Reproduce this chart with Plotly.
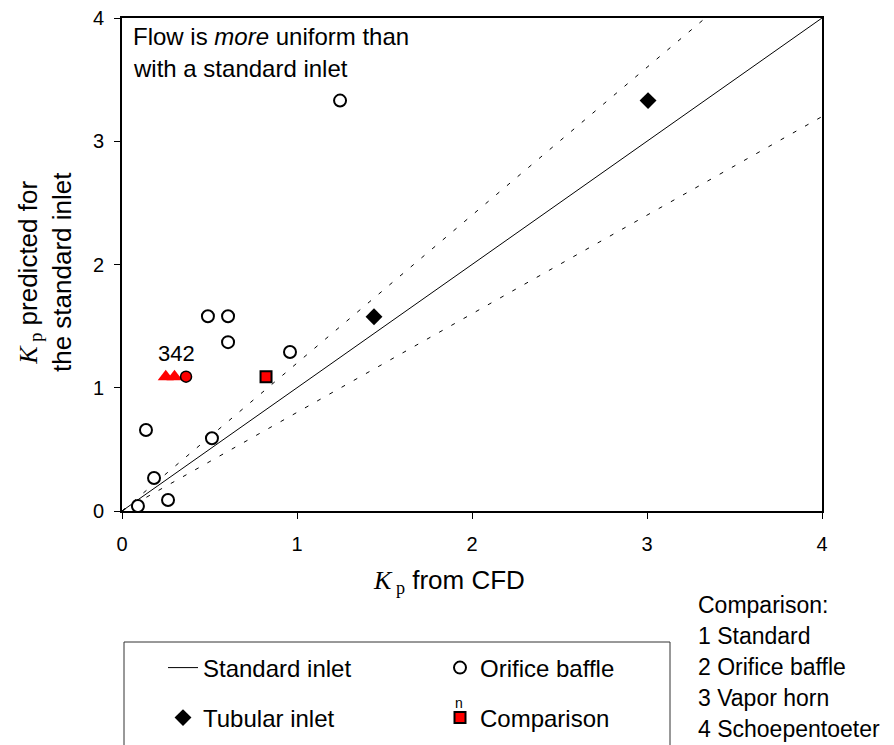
import plotly.graph_objects as go

# ---------------- data ----------------
orifice_x = [1.246, 0.491, 0.606, 0.606, 0.96, 0.137, 0.514, 0.183, 0.263, 0.091]
orifice_y = [3.33, 1.58, 1.58, 1.37, 1.29, 0.657, 0.59, 0.268, 0.089, 0.04]

tubular_x = [1.44, 3.006]
tubular_y = [1.576, 3.33]

comp_std_x = [0.823]          # 1 Standard
comp_std_y = [1.09]
comp_horn_x = [0.25, 0.30]    # 3 Vapor horn, 4 Schoepentoeter
comp_horn_y = [1.09, 1.09]
comp_orif_x = [0.366]         # 2 Orifice baffle
comp_orif_y = [1.09]
comp_label = "342"
comp_label_x = 0.3126
comp_label_y = 1.274

line_x = [0, 4]
std_ratio = 1.0
band_ratios = [1.2, 0.8]

ticks = [0, 1, 2, 3, 4]
comparison_note = ["Comparison:", "1 Standard", "2 Orifice baffle", "3 Vapor horn", "4 Schoepentoeter"]

# ---------------- figure ----------------
FONT = "Liberation Sans, Arial, sans-serif"

W, H = 894, 745
L, R, T, B = 122, 72, 18, 234
PW, PH = W - L - R, H - T - B


def px_x(p):
    return (p - L) / PW


def px_y(p):
    return (H - B - p) / PH


fig = go.Figure()

# band lines
for r in band_ratios:
    fig.add_trace(go.Scatter(
        x=line_x, y=[r * v for v in line_x], mode="lines",
        line=dict(color="black", width=1, dash="4px,10px"),
        showlegend=False, hoverinfo="skip"))

# legend row 1
fig.add_trace(go.Scatter(
    x=line_x, y=[std_ratio * v for v in line_x], mode="lines",
    line=dict(color="black", width=1), name="Standard inlet", legend="legend"))
fig.add_trace(go.Scatter(
    x=orifice_x, y=orifice_y, mode="markers", name="Orifice baffle", legend="legend",
    marker=dict(symbol="circle", size=12, color="white", line=dict(color="black", width=2))))

# legend row 2
fig.add_trace(go.Scatter(
    x=tubular_x, y=tubular_y, mode="markers", name="Tubular inlet", legend="legend2",
    marker=dict(symbol="diamond", size=13, color="black", line=dict(color="black", width=0))))
fig.add_trace(go.Scatter(
    x=comp_std_x, y=comp_std_y, mode="markers", name="Comparison", legend="legend2",
    marker=dict(symbol="square", size=11, color="#ff0000", line=dict(color="black", width=2))))
fig.add_trace(go.Scatter(
    x=comp_horn_x, y=comp_horn_y, mode="markers", showlegend=False,
    marker=dict(symbol="triangle-up", size=14, color="#ff0000", line=dict(width=0))))
fig.add_trace(go.Scatter(
    x=comp_orif_x, y=comp_orif_y, mode="markers", showlegend=False,
    marker=dict(symbol="circle", size=11, color="#ff0000", line=dict(color="black", width=1.5))))

K_HTML = ("<span style='font-family:Liberation Serif'><i>K</i></span>"
          "<span style='font-family:Liberation Serif'><sub> p</sub></span>")

annotations = [
    dict(x=comp_label_x, y=comp_label_y, xref="x", yref="y", text=comp_label,
         showarrow=False, font=dict(family=FONT, size=22, color="black")),
    dict(x=px_x(131), y=px_y(36), xref="paper", yref="paper", xanchor="left", yanchor="middle",
         text="Flow is <i>more</i> uniform than", showarrow=False,
         font=dict(family=FONT, size=24, color="black")),
    dict(x=px_x(131), y=px_y(68), xref="paper", yref="paper", xanchor="left", yanchor="middle",
         text="with a standard inlet", showarrow=False,
         font=dict(family=FONT, size=24, color="black")),
    dict(x=px_x(459), y=px_y(703), xref="paper", yref="paper", xanchor="center", yanchor="middle",
         text="n", showarrow=False, font=dict(family=FONT, size=14, color="black")),
    # axis titles
    dict(x=px_x(449), y=px_y(581), xref="paper", yref="paper", xanchor="center", yanchor="middle",
         text=K_HTML + " from CFD", showarrow=False,
         font=dict(family=FONT, size=26, color="black")),
    dict(x=px_x(45), y=px_y(272), xref="paper", yref="paper", xanchor="center", yanchor="middle",
         textangle=-90, text=K_HTML + " predicted for<br>the standard inlet", showarrow=False,
         font=dict(family=FONT, size=26, color="black")),
]
for i, s in enumerate(comparison_note):
    annotations.append(dict(
        x=px_x(696), y=px_y(605 + 31 * i), xref="paper", yref="paper",
        xanchor="left", yanchor="middle", text=s, showarrow=False,
        font=dict(family=FONT, size=23, color="black")))

fig.update_layout(
    width=W, height=H, autosize=False,
    margin=dict(l=L, r=R, t=T, b=B, autoexpand=False),
    paper_bgcolor="white", plot_bgcolor="white",
    font=dict(family=FONT, size=20, color="black"),
    showlegend=True,
    xaxis=dict(range=[0, 4], tickvals=ticks, ticktext=[str(t) for t in ticks],
               showgrid=False, zeroline=False, showline=True, mirror=True,
               linecolor="black", linewidth=2, ticks="outside", ticklen=6, tickwidth=1,
               tickcolor="black", tickfont=dict(family=FONT, size=20),
               ticklabelstandoff=8),
    yaxis=dict(range=[0, 4], tickvals=ticks, ticktext=[str(t) for t in ticks],
               showgrid=False, zeroline=False, showline=True, mirror=True,
               linecolor="black", linewidth=2, ticks="outside", ticklen=6, tickwidth=1,
               tickcolor="black", tickfont=dict(family=FONT, size=20),
               ticklabelstandoff=6),
    legend=dict(orientation="h", x=px_x(163), y=px_y(668), xanchor="left", yanchor="middle",
                font=dict(family=FONT, size=24, color="black"), bgcolor="rgba(0,0,0,0)",
                borderwidth=0, entrywidth=232, entrywidthmode="pixels", itemwidth=30),
    legend2=dict(orientation="h", x=px_x(163), y=px_y(718), xanchor="left", yanchor="middle",
                 font=dict(family=FONT, size=24, color="black"), bgcolor="rgba(0,0,0,0)",
                 borderwidth=0, entrywidth=232, entrywidthmode="pixels", itemwidth=30),
    shapes=[dict(type="rect", xref="paper", yref="paper",
                 x0=px_x(124), x1=px_x(670), y0=px_y(760), y1=px_y(642),
                 line=dict(color="#333333", width=1), fillcolor="rgba(0,0,0,0)")],
    annotations=annotations,
)

fig.write_html("out.html")
